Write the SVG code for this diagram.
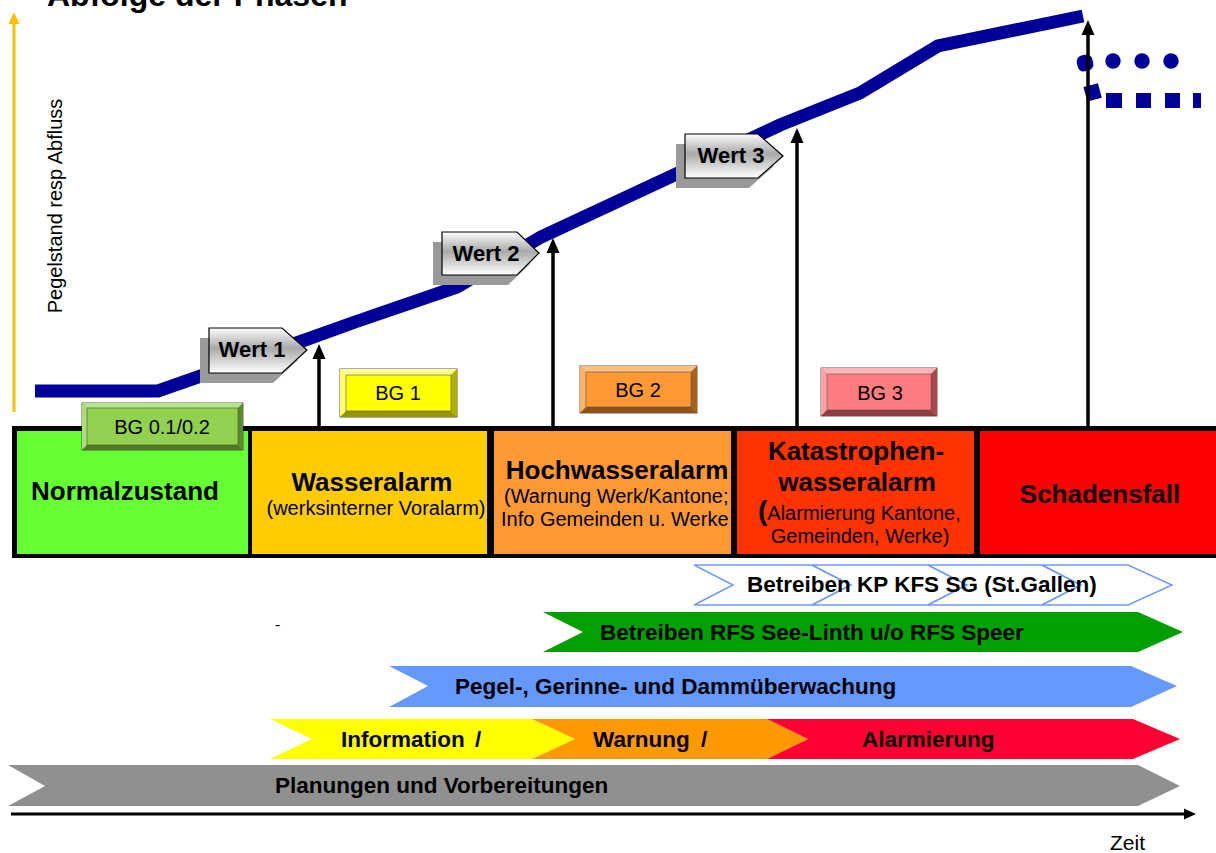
<svg xmlns="http://www.w3.org/2000/svg" width="1216" height="853" viewBox="0 0 1216 853">
  <defs>
    <style>
      text { font-family: "Liberation Sans", Arial, sans-serif; fill: #000; }
      .title { font-size: 32px; font-weight: bold; }
      .axis-label { font-size: 20px; }
      .phase { font-size: 26px; font-weight: bold; text-anchor: middle; }
      .phase-sub { font-size: 20px; }
      .mid { text-anchor: middle; }
      .bar { font-size: 22.5px; font-weight: bold; }
      .bg { font-size: 20px; text-anchor: middle; }
      .wert { font-size: 22px; font-weight: bold; text-anchor: middle; }
      .level { fill: none; stroke: #000099; stroke-width: 13; stroke-linejoin: miter; }
      .trigger { stroke: #000; stroke-width: 3.5; }
      .wert-box { fill: url(#wertFill); stroke: #000; stroke-width: 1.2; }
      .wert-shadow { fill: #9a9a9a; }
      .bevel { stroke: #333; stroke-width: 0.8; }
    </style>
    <linearGradient id="wertFill" x1="0" y1="0" x2="0" y2="1">
      <stop offset="0" stop-color="#fdfdfd"/>
      <stop offset="0.45" stop-color="#a9a9a9"/>
      <stop offset="1" stop-color="#ffffff"/>
    </linearGradient>
    <clipPath id="hochClip">
      <rect x="494" y="431" width="237" height="123"/>
    </clipPath>
    <clipPath id="katClip">
      <rect x="737" y="431" width="237" height="123"/>
    </clipPath>
  </defs>

  <!-- heading (runs off the top edge) -->
  <text class="title" x="47" y="6">Abfolge der Phasen</text>

  <!-- vertical axis -->
  <g id="y-axis">
    <line x1="14" y1="412" x2="14" y2="20" stroke="#FFC000" stroke-width="3"/>
    <polygon points="14,12 8.5,24 19.5,24" fill="#FFC000"/>
    <text class="axis-label" transform="translate(62,206) rotate(-90)" text-anchor="middle">Pegelstand resp Abfluss</text>
  </g>

  <!-- water level curve -->
  <g id="level-curve">
    <polyline class="level" points="35,391 158,391 215,371 305,340 355,322 457,287 541,237 672,176 780,125 860,93 938,46 1083,16"/>
    <!-- continuation variants -->
    <g fill="#000099">
      <rect x="1077" y="55" width="16" height="16" rx="6" transform="rotate(-12 1085 63)"/>
      <circle cx="1113" cy="61" r="7.7"/>
      <circle cx="1142" cy="61" r="7.7"/>
      <circle cx="1171" cy="61" r="7.7"/>
      <rect x="1085" y="85" width="15" height="15" transform="rotate(-15 1092 92)"/>
      <rect x="1106" y="93" width="16" height="15"/>
      <rect x="1136" y="93" width="15" height="15"/>
      <rect x="1165" y="93" width="15" height="15"/>
      <rect x="1193" y="93" width="8" height="15"/>
    </g>
  </g>

  <!-- threshold markers -->
  <g id="wert-1">
    <polygon class="wert-shadow" points="200,338 273,338 298,360 273,383 200,383"/>
    <polygon class="wert-box" points="209,328 282,328 307,350 282,373 209,373"/>
    <text class="wert" x="252" y="357">Wert 1</text>
  </g>
  <g id="wert-2">
    <polygon class="wert-shadow" points="433,242 508,242 530,264 508,285 433,285"/>
    <polygon class="wert-box" points="442,232 517,232 539,253 517,275 442,275"/>
    <text class="wert" x="486" y="261">Wert 2</text>
  </g>
  <g id="wert-3">
    <polygon class="wert-shadow" points="676,144 749,144 774,166 749,188 676,188"/>
    <polygon class="wert-box" points="685,134 758,134 783,156 758,178 685,178"/>
    <text class="wert" x="731" y="163">Wert 3</text>
  </g>

  <!-- trigger arrows -->
  <g id="connectors">
    <line class="trigger" x1="319" y1="428" x2="319" y2="355"/>
    <polygon points="319,344 312.5,359 325.5,359"/>
    <line class="trigger" x1="553" y1="428" x2="553" y2="249"/>
    <polygon points="553,238 546.5,253 559.5,253"/>
    <line class="trigger" x1="797" y1="428" x2="797" y2="139"/>
    <polygon points="797,128 790.5,143 803.5,143"/>
    <line class="trigger" x1="1088" y1="428" x2="1088" y2="31"/>
    <polygon points="1088,20 1081.5,35 1094.5,35"/>
  </g>

  <!-- phase row -->
  <rect x="12" y="426" width="1204" height="132" fill="#000"/>
  <g id="phase-normal">
    <rect x="17" y="431" width="231" height="123" fill="#66FF33"/>
    <text class="phase" x="125" y="500">Normalzustand</text>
  </g>
  <g id="phase-wasser">
    <rect x="252" y="431" width="235" height="123" fill="#FFCC00"/>
    <text class="phase" x="372" y="491">Wasseralarm</text>
    <text class="phase-sub mid" x="376" y="515">(werksinterner Voralarm)</text>
  </g>
  <g id="phase-hochwasser">
    <rect x="494" y="431" width="237" height="123" fill="#FF9933"/>
    <g clip-path="url(#hochClip)">
      <text class="phase" x="617" y="479">Hochwasseralarm</text>
      <text class="phase-sub" x="504" y="503">(Warnung Werk/Kantone;</text>
      <text class="phase-sub" x="501" y="526">Info Gemeinden u. Werke</text>
    </g>
  </g>
  <g id="phase-katastrophe">
    <rect x="737" y="431" width="237" height="123" fill="#FF3300"/>
    <g clip-path="url(#katClip)">
      <text class="phase" x="856" y="460">Katastrophen-</text>
      <text class="phase" x="857" y="491">wasseralarm</text>
      <text class="phase-sub" x="758" y="520"><tspan font-size="28" font-weight="bold">(</tspan>Alarmierung Kantone,</text>
      <text class="phase-sub mid" x="860" y="543">Gemeinden, Werke)</text>
    </g>
  </g>
  <g id="phase-schaden">
    <rect x="980" y="431" width="236" height="123" fill="#FF0000"/>
    <text class="phase" x="1100" y="503">Schadensfall</text>
  </g>

  <!-- alert levels -->
  <g id="bg-0">
    <rect class="bevel" x="82" y="403" width="161" height="47" fill="#92D050"/>
    <polygon points="82,403 243,403 238,408 87,408" fill="#b8e290"/>
    <polygon points="82,403 87,408 87,445 82,450" fill="#aedb80"/>
    <polygon points="243,403 243,450 238,445 238,408" fill="#5d8a30"/>
    <polygon points="82,450 243,450 238,445 87,445" fill="#4f7828"/>
    <rect x="87" y="408" width="151" height="37" fill="#92D050" stroke="#3f6020" stroke-width="0.6"/>
    <text class="bg" x="162" y="434">BG 0.1/0.2</text>
  </g>
  <g id="bg-1">
    <rect class="bevel" x="340" y="369" width="117" height="48" fill="#FFFF00"/>
    <polygon points="340,369 457,369 451,375 346,375" fill="#ffff99"/>
    <polygon points="340,369 346,375 346,411 340,417" fill="#ffff70"/>
    <polygon points="457,369 457,417 451,411 451,375" fill="#b0b000"/>
    <polygon points="340,417 457,417 451,411 346,411" fill="#959500"/>
    <rect x="346" y="375" width="105" height="36" fill="#FFFF00" stroke="#555" stroke-width="0.6"/>
    <text class="bg" x="398" y="400">BG 1</text>
  </g>
  <g id="bg-2">
    <rect class="bevel" x="580" y="366" width="117" height="47" fill="#FF9933"/>
    <polygon points="580,366 697,366 691,372 586,372" fill="#ffbf80"/>
    <polygon points="580,366 586,372 586,407 580,413" fill="#ffb266"/>
    <polygon points="697,366 697,413 691,407 691,372" fill="#a8601c"/>
    <polygon points="580,413 697,413 691,407 586,407" fill="#8f5218"/>
    <rect x="586" y="372" width="105" height="35" fill="#FF9933" stroke="#555" stroke-width="0.6"/>
    <text class="bg" x="638" y="397">BG 2</text>
  </g>
  <g id="bg-3">
    <rect class="bevel" x="821" y="368" width="116" height="48" fill="#FF7C80"/>
    <polygon points="821,368 937,368 931,374 827,374" fill="#ffb3b5"/>
    <polygon points="821,368 827,374 827,410 821,416" fill="#ffa3a6"/>
    <polygon points="937,368 937,416 931,410 931,374" fill="#a8484c"/>
    <polygon points="821,416 937,416 931,410 827,410" fill="#8f3d40"/>
    <rect x="827" y="374" width="104" height="36" fill="#FF7C80" stroke="#555" stroke-width="0.6"/>
    <text class="bg" x="880" y="400">BG 3</text>
  </g>

  <!-- activity bars -->
  <g id="bar-kp">
    <g fill="#fff" stroke="#6f9bff" stroke-width="1.5">
      <polygon points="694,565 812,565 851,585 812,605 694,605 733,585"/>
      <polygon points="812,565 928,565 967,585 928,605 812,605 851,585"/>
      <polygon points="928,565 1042,565 1081,585 1042,605 928,605 967,585"/>
      <polygon points="1042,565 1128,565 1172,585 1128,605 1042,605 1081,585"/>
    </g>
    <text class="bar" x="747" y="592">Betreiben KP KFS SG (St.Gallen)</text>
  </g>
  <g id="bar-rfs">
    <polygon points="543,612 1138,612 1183,632 1138,652 543,652 583,632" fill="#00A000"/>
    <text class="bar" x="600" y="640">Betreiben RFS See-Linth u/o RFS Speer</text>
  </g>
  <text x="275" y="630" font-size="16">-</text>
  <g id="bar-pegel">
    <polygon points="389,666 1131,666 1177,686 1131,707 389,707 428,686" fill="#6699FF"/>
    <text class="bar" x="455" y="694">Pegel-, Gerinne- und Dammüberwachung</text>
  </g>
  <g id="bar-info">
    <polygon points="270,719 532,719 575,739 532,759 270,759 312,739" fill="#FFFF00"/>
    <polygon points="532,719 767,719 808,739 767,759 532,759 575,739" fill="#FF9900"/>
    <polygon points="767,719 1133,719 1180,739 1133,759 767,759 808,739" fill="#FF0033"/>
    <text class="bar" x="341" y="747">Information</text>
    <text class="bar" x="475" y="747">/</text>
    <text class="bar" x="593" y="747">Warnung</text>
    <text class="bar" x="701" y="747">/</text>
    <text class="bar" x="862" y="747">Alarmierung</text>
  </g>
  <g id="bar-plan">
    <polygon points="8,765 1138,765 1180,786 1138,806 8,806 45,786" fill="#909090"/>
    <text class="bar" x="275" y="793">Planungen und Vorbereitungen</text>
  </g>

  <!-- time axis -->
  <g id="x-axis">
    <line x1="11" y1="814" x2="1186" y2="814" stroke="#000" stroke-width="3"/>
    <polygon points="1196,814 1184,808.5 1184,819.5" fill="#000"/>
    <text x="1110" y="850" font-size="21">Zeit</text>
  </g>
</svg>
